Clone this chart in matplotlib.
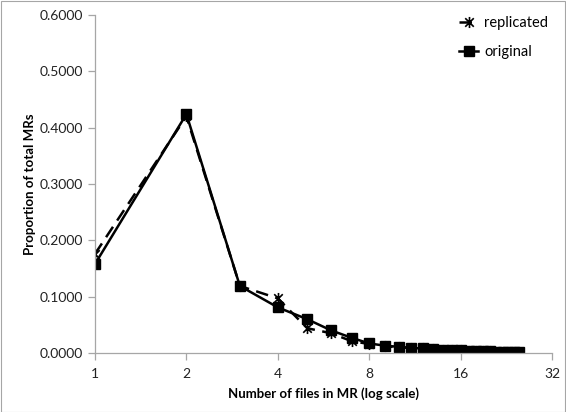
import matplotlib.pyplot as plt
from matplotlib.ticker import FixedLocator, FixedFormatter, NullLocator
from matplotlib.patches import Rectangle
from matplotlib.path import Path

plt.rcParams['font.family'] = ['Lato', 'DejaVu Sans']

# files per MR (x) and proportion of MRs (y)
files_orig = list(range(1, 26))
original = [0.158, 0.424, 0.119, 0.081, 0.060, 0.040, 0.027, 0.017, 0.013,
            0.011, 0.009, 0.008, 0.007, 0.006, 0.005, 0.0045, 0.004, 0.0035,
            0.003, 0.003, 0.0025, 0.0025, 0.002, 0.002, 0.002]
files_rep = list(range(1, 26))
replicated = [0.176, 0.420, 0.119, 0.097, 0.044, 0.035, 0.021, 0.016, 0.012,
              0.010, 0.009, 0.008, 0.007, 0.006, 0.005, 0.0045, 0.004, 0.0035,
              0.003, 0.003, 0.0025, 0.0025, 0.002, 0.002, 0.002]

x_ticks = [1, 2, 4, 8, 16, 32]
y_ticks = [0.0, 0.1, 0.2, 0.3, 0.4, 0.5, 0.6]

# excel style star: an x with a vertical bar
star = Path([(-1, -1), (1, 1), (-1, 1), (1, -1), (0, -1.3), (0, 1.3)],
            [Path.MOVETO, Path.LINETO] * 3)

fig = plt.figure(figsize=(5.66, 4.12), dpi=100)
ax = fig.add_axes([95 / 566, 1 - 353 / 412, 457 / 566, 338 / 412])

ax.plot(files_rep, replicated, color='black', linestyle=(0, (5, 3)), lw=1.8,
        marker=star, ms=8, mew=1.2, label='replicated')
ax.plot(files_orig, original, color='black', lw=1.8, marker='s', ms=6.5,
        label='original')

ax.set_xscale('log', base=2)
ax.set_xlim(1, 32)
ax.set_ylim(0, 0.6)
ax.xaxis.set_major_locator(FixedLocator(x_ticks))
ax.xaxis.set_major_formatter(FixedFormatter([str(t) for t in x_ticks]))
ax.xaxis.set_minor_locator(NullLocator())
ax.set_yticks(y_ticks)
ax.set_yticklabels([f'{t:.4f}' for t in y_ticks])

for side in ['top', 'right']:
    ax.spines[side].set_visible(False)
for side in ['left', 'bottom']:
    ax.spines[side].set_color('#a6a6a6')
    ax.spines[side].set_linewidth(0.9)
ax.tick_params(axis='both', direction='out', color='#a6a6a6', length=5,
               width=0.9, labelsize=10, labelcolor='#222222')
ax.tick_params(axis='x', pad=6)

ax.set_xlabel('Number of files in MR (log scale)', fontsize=9.5,
              fontweight='bold', labelpad=5)
ax.set_ylabel('Proportion of total MRs', fontsize=9.5, fontweight='bold',
              labelpad=3)

ax.legend(loc='upper right', bbox_to_anchor=(1.02, 1.035), frameon=False,
          fontsize=10.5, handlelength=1.3, handletextpad=0.4,
          labelspacing=1.0)

fig.patches.append(Rectangle((0.001, 0.001), 0.997, 0.997,
                             transform=fig.transFigure, fill=False,
                             edgecolor='#a6a6a6', lw=0.8))

fig.savefig('out.png', dpi=100)
